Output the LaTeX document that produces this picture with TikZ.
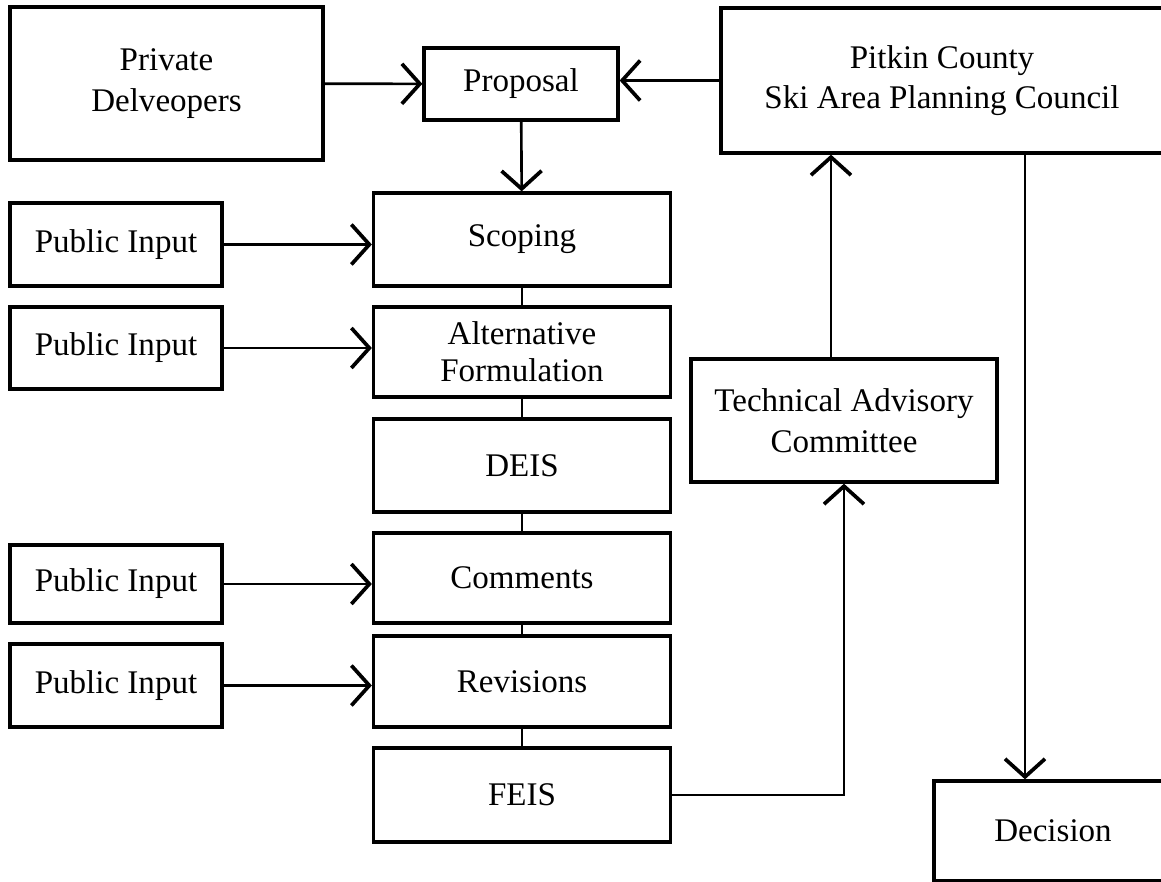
\documentclass[tikz,border=0pt]{standalone}
\usepackage{fontspec}
\setmainfont{Liberation Serif}
\usetikzlibrary{arrows.meta, positioning}

\tikzset{
  box/.style={draw, line width=1.9pt, align=center, inner sep=0pt,
    font=\fontsize{18.8}{23}\selectfont},
  stagebox/.style={box, minimum width=5.94cm},
  inputbox/.style={box, minimum width=4.24cm},
  arr/.style={line width=1.5pt, -{Straight Barb[length=0.36cm, width=0.8cm, line width=2.1pt]}},
  link/.style={line width=1.5pt},
}

\begin{document}
\begin{tikzpicture}[x=0.02cm, y=-0.02cm]
    \clip (0,0) rectangle (1161,882);

    % top row
    \node[box, minimum width=6.26cm, minimum height=3.06cm] (priv) at (166.5,83.5) {Private\\Delveopers};
    \node[box, minimum width=3.88cm, minimum height=1.44cm] (prop) at (521,84) {Proposal};
    \node[box, minimum width=8.84cm, minimum height=2.9cm] (pitkin) at (942,80.5) {Pitkin County\\Ski Area Planning Council};

    % main column
    \node[stagebox, minimum height=1.86cm] (scop) at (522,239.5) {Scoping};
    \node[stagebox, minimum height=1.8cm] (alt) at (522,352) {Alternative\\[-2pt]Formulation};
    \node[stagebox, minimum height=1.86cm] (deis) at (522,465.5) {DEIS};
    \node[stagebox, minimum height=1.8cm] (comm) at (522,578) {Comments};
    \node[stagebox, minimum height=1.82cm] (rev) at (522,681.5) {Revisions};
    \node[stagebox, minimum height=1.88cm] (feis) at (522,795) {FEIS};

    % public input
    \node[inputbox, minimum height=1.66cm] (pub1) at (116,244.5) {Public Input};
    \node[inputbox, minimum height=1.64cm] (pub2) at (116,348) {Public Input};
    \node[inputbox, minimum height=1.56cm] (pub3) at (116,584) {Public Input};
    \node[inputbox, minimum height=1.66cm] (pub4) at (116,685.5) {Public Input};

    % right side
    \node[box, minimum width=6.12cm, minimum height=2.46cm] (tac) at (844,420.5) {Technical Advisory\\Committee};
    \node[box, minimum width=4.76cm, minimum height=2cm] (dec) at (1053,831) {Decision};

    \coordinate (tacup) at ([xshift=-0.26cm]tac.north);
    \coordinate (drop) at ([xshift=-0.56cm]dec.north);

    % connectors
    \draw[arr] (priv) -- (prop);
    \draw[arr] (pitkin.west) -- (pitkin.west -| prop.east);
    \draw[arr] (prop) -- (scop);
    \draw[link] (scop) -- (alt);
    \draw[link] (alt) -- (deis);
    \draw[link] (deis) -- (comm);
    \draw[link] (comm) -- (rev);
    \draw[link] (rev) -- (feis);

    \draw[arr] (pub1) -- (pub1 -| scop.west);
    \draw[arr] (pub2) -- (pub2 -| alt.west);
    \draw[arr] (pub3) -- (pub3 -| comm.west);
    \draw[arr] (pub4) -- (pub4 -| rev.west);

    \draw[arr] (feis.east) -| (tac.south);
    \draw[arr] (tacup) -- (tacup |- pitkin.south);
    \draw[arr] (drop |- pitkin.south) -- (drop);
\end{tikzpicture}
\end{document}
